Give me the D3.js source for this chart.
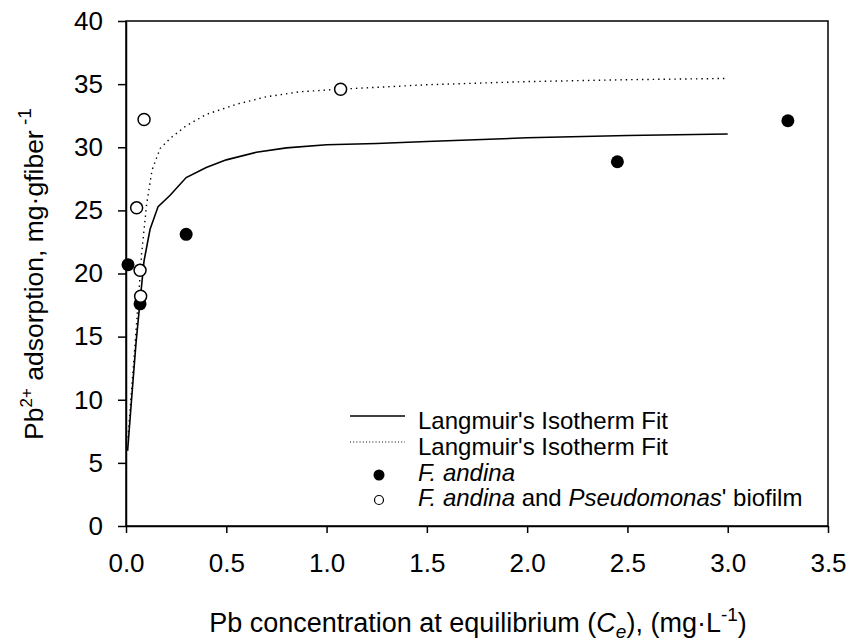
<!DOCTYPE html>
<html lang="en">
<head>
<meta charset="UTF-8" />
<script src="https://d3js.org/d3.v7.min.js"></script>
<title>Pb adsorption</title>
<style>
  body { margin: 0; background: #fff; }
  text { font-family: "Liberation Sans", Arial, sans-serif; fill: #000; }
</style>
</head>
<body>
<script type="text/javascript">

// measured points
var andinaX = [0.01, 0.07, 0.30, 2.45, 3.30];
var andinaY = [20.7, 17.6, 23.1, 28.85, 32.1];
var biofilmX = [0.053, 0.07, 0.073, 0.09, 1.07];
var biofilmY = [25.2, 20.25, 18.2, 32.2, 34.6];

// fitted curves
var fitAX = [0.008, 0.03, 0.05, 0.07, 0.09, 0.12, 0.16, 0.22, 0.30, 0.40, 0.50, 0.65, 0.80, 1.0, 1.25, 1.5, 2.0, 2.5, 3.0];
var fitAY = [5.95, 10.5, 14.5, 17.8, 21.0, 23.5, 25.3, 26.2, 27.6, 28.4, 29.0, 29.6, 29.95, 30.2, 30.3, 30.45, 30.75, 30.93, 31.05];
var fitBX = [0.01, 0.035, 0.055, 0.078, 0.103, 0.13, 0.17, 0.22, 0.30, 0.40, 0.55, 0.70, 0.87, 1.07, 1.5, 2.0, 2.5, 3.0];
var fitBY = [7.0, 12.3, 16.5, 21.6, 25.5, 28.2, 29.9, 30.7, 31.7, 32.6, 33.4, 34.0, 34.4, 34.6, 34.95, 35.2, 35.35, 35.45];

var xTicks = [0, 0.5, 1.0, 1.5, 2.0, 2.5, 3.0, 3.5];
var yTicks = [0, 5, 10, 15, 20, 25, 30, 35, 40];

var width = 851, height = 642;
var margin = {left: 126, right: 23, top: 21, bottom: 116};

var svg = d3.select("body").append("svg").attr("width", width).attr("height", height);

var x = d3.scaleLinear().domain([0, 3.5]).range([margin.left, width - margin.right]);
var y = d3.scaleLinear().domain([0, 40]).range([height - margin.bottom, margin.top]);

function pairs(xs, ys) { return xs.map(function(v, i){ return [v, ys[i]]; }); }

// frame
svg.append("rect")
  .attr("x", x(0)).attr("y", y(40))
  .attr("width", x(3.5) - x(0)).attr("height", y(0) - y(40))
  .attr("fill", "none").attr("stroke", "#000").attr("stroke-width", 1.5);

var xAxis = svg.append("g")
  .attr("transform", "translate(0," + y(0) + ")")
  .call(d3.axisBottom(x).tickValues(xTicks).tickFormat(d3.format(".1f")).tickSize(7).tickPadding(21).tickSizeOuter(0));
var yAxis = svg.append("g")
  .attr("transform", "translate(" + x(0) + ",0)")
  .call(d3.axisLeft(y).tickValues(yTicks).tickFormat(d3.format("d")).tickSize(8).tickPadding(15).tickSizeOuter(0));

[xAxis, yAxis].forEach(function(g){
  g.select(".domain").attr("stroke-width", 1.5);
  g.selectAll(".tick line").attr("stroke-width", 1.5);
  g.selectAll(".tick text").style("font-size", "26px").attr("font-family", null);
});

var line = d3.line().x(function(d){ return x(d[0]); }).y(function(d){ return y(d[1]); });

svg.append("path").datum(pairs(fitAX, fitAY)).attr("d", line)
  .attr("fill", "none").attr("stroke", "#000").attr("stroke-width", 1.6);
svg.append("path").datum(pairs(fitBX, fitBY)).attr("d", line)
  .attr("fill", "none").attr("stroke", "#000").attr("stroke-width", 1.4)
  .attr("stroke-dasharray", "1.4,4");

svg.selectAll(".pa").data(pairs(andinaX, andinaY)).enter().append("circle")
  .attr("cx", function(d){ return x(d[0]); }).attr("cy", function(d){ return y(d[1]); })
  .attr("r", 6.5).attr("fill", "#000");
svg.selectAll(".pb").data(pairs(biofilmX, biofilmY)).enter().append("circle")
  .attr("cx", function(d){ return x(d[0]); }).attr("cy", function(d){ return y(d[1]); })
  .attr("r", 6).attr("fill", "#fff").attr("stroke", "#000").attr("stroke-width", 1.5);

// legend
var lg = svg.append("g").style("font-size", "24px");
var rowY = [429, 455, 481, 506];
lg.append("line").attr("x1", 350).attr("x2", 405).attr("y1", rowY[0] - 13).attr("y2", rowY[0] - 13)
  .attr("stroke", "#000").attr("stroke-width", 1.4);
lg.append("line").attr("x1", 350).attr("x2", 405).attr("y1", rowY[1] - 13).attr("y2", rowY[1] - 13)
  .attr("stroke", "#000").attr("stroke-width", 1).attr("stroke-dasharray", "1,2.2");
lg.append("circle").attr("cx", 379).attr("cy", rowY[2] - 6).attr("r", 5.5).attr("fill", "#000");
lg.append("circle").attr("cx", 379).attr("cy", rowY[3] - 6).attr("r", 4.5).attr("fill", "#fff")
  .attr("stroke", "#000").attr("stroke-width", 1.2);
lg.append("text").attr("x", 418).attr("y", rowY[0]).text("Langmuir's Isotherm Fit");
lg.append("text").attr("x", 418).attr("y", rowY[1]).text("Langmuir's Isotherm Fit");
lg.append("text").attr("x", 418).attr("y", rowY[2]).style("font-style", "italic").text("F. andina");
var t4 = lg.append("text").attr("x", 418).attr("y", rowY[3]);
t4.append("tspan").style("font-style", "italic").text("F. andina");
t4.append("tspan").text(" and ");
t4.append("tspan").style("font-style", "italic").text("Pseudomonas");
t4.append("tspan").text("' biofilm");

// x title
var xt = svg.append("text").attr("x", 478).attr("y", 632).attr("text-anchor", "middle").style("font-size", "27px");
xt.append("tspan").text("Pb concentration at equilibrium (");
xt.append("tspan").style("font-style", "italic").text("C");
xt.append("tspan").style("font-style", "italic").style("font-size", "19px").attr("dy", 6).text("e");
xt.append("tspan").attr("dy", -6).text("), (mg\u00b7L");
xt.append("tspan").style("font-size", "19px").attr("dy", -11).text("-1");
xt.append("tspan").attr("dy", 11).text(")");

// y title
var yt = svg.append("text").attr("transform", "translate(43,274) rotate(-90)")
  .attr("text-anchor", "middle").style("font-size", "26.5px");
yt.append("tspan").text("Pb");
yt.append("tspan").style("font-size", "17px").attr("dy", -11).text("2+");
yt.append("tspan").attr("dy", 11).text(" adsorption, mg\u00b7gfiber");
yt.append("tspan").style("font-size", "19px").attr("dy", -12).text(" -1");

</script>
</body>
</html>
